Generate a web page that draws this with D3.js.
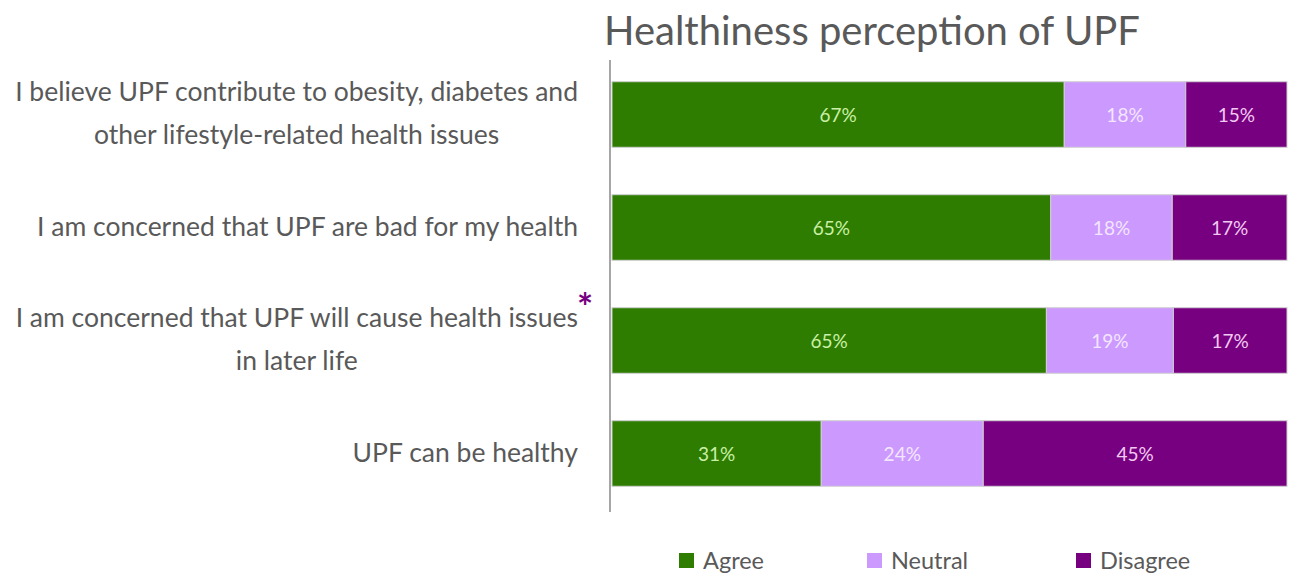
<!DOCTYPE html>
<html>
<head>
<meta charset="utf-8">
<script src="https://cdn.jsdelivr.net/npm/d3@7"></script>
<style>
  html, body { margin: 0; padding: 0; background: #ffffff; }
  svg { display: block; font-family: "Lato", "Noto Sans", sans-serif; }
</style>
</head>
<body>
<svg id="chart" width="1295" height="576"></svg>
<script>
// Statements (each entry is a list of wrapped lines)
const statements = [
  ["I believe UPF contribute to obesity, diabetes and", "other lifestyle-related health issues"],
  ["I am concerned that UPF are bad for my health"],
  ["I am concerned that UPF will cause health issues", "in later life"],
  ["UPF can be healthy"]
];
const responses = ["Agree", "Neutral", "Disagree"];
const agree    = [67, 65, 65, 31];
const neutral  = [18, 18, 19, 24];
const disagree = [15, 17, 17, 45];
const flagged  = [false, false, true, false];

const fills      = ["#2e7d00", "#cc99ff", "#770080"];
const labelInks  = ["#c9f0a6", "#f3e6ff", "#f2c9f2"];

const svg = d3.select("#chart");
const margin = { top: 58, right: 8, bottom: 66, left: 612 };
const W = 1295, H = 576;

const rows = statements.map((s, i) => ({
  key: i, lines: s, flag: flagged[i],
  values: [agree[i], neutral[i], disagree[i]]
}));

// each bar is shown as shares of its row total (100% stacked)
const x = d3.scaleLinear().domain([0, 1]).range([margin.left, W - margin.right]);
const y = d3.scaleBand().domain(rows.map(d => d.key))
  .range([margin.top, H - margin.bottom]).paddingInner(0.42).paddingOuter(0.21);

// title
svg.append("text")
  .attr("x", 604).attr("y", 45)
  .attr("fill", "#595959").attr("font-size", 40)
  .text("Healthiness perception of UPF");

// stacked segments
const stack = d3.stack().keys([0, 1, 2])
  .value((d, k) => d.values[k])
  .offset(d3.stackOffsetExpand);
const series = stack(rows);

const g = svg.append("g");
series.forEach((s, k) => {
  g.selectAll(null).data(s).join("rect")
    .attr("x", d => x(d[0]))
    .attr("y", d => y(d.data.key))
    .attr("width", d => x(d[1]) - x(d[0]))
    .attr("height", y.bandwidth())
    .attr("fill", fills[k])
    .attr("stroke", "#cfcfcf").attr("stroke-width", 1);

  g.selectAll(null).data(s).join("text")
    .attr("x", d => (x(d[0]) + x(d[1])) / 2)
    .attr("y", d => y(d.data.key) + y.bandwidth() / 2)
    .attr("text-anchor", "middle").attr("dominant-baseline", "central")
    .attr("fill", labelInks[k]).attr("font-size", 19)
    .text(d => d.data.values[k] + "%");
});

// category axis line
svg.append("line")
  .attr("x1", margin.left - 2).attr("x2", margin.left - 2)
  .attr("y1", margin.top + 2).attr("y2", H - margin.bottom + 2)
  .attr("stroke", "#a6a6a6").attr("stroke-width", 2);

// category labels: centered lines, block right-aligned to the axis
const labelRight = 578, lineGap = 42.5;
rows.forEach(r => {
  const cy = y(r.key) + y.bandwidth() / 2 - 2;
  const n = r.lines.length;
  const grp = svg.append("g");
  const texts = r.lines.map((line, j) =>
    grp.append("text")
      .attr("y", cy + (j - (n - 1) / 2) * lineGap)
      .attr("dominant-baseline", "central")
      .attr("fill", "#595959").attr("font-size", 26.5)
      .text(line));
  const widths = texts.map(t => t.node().getComputedTextLength());
  const maxW = d3.max(widths);
  const cx = labelRight - maxW / 2;
  texts.forEach(t => t.attr("x", cx).attr("text-anchor", "middle"));
  if (r.flag) {
    grp.append("text")
      .attr("x", labelRight - 1)
      .attr("y", cy + (0 - (n - 1) / 2) * lineGap + 4)
      .attr("fill", "#770080").attr("font-size", 38).attr("font-weight", "bold")
      .text("*");
  }
});

// legend
const legendX = [679, 867, 1076];
const legend = svg.append("g");
responses.forEach((name, k) => {
  legend.append("rect")
    .attr("x", legendX[k]).attr("y", 553).attr("width", 15).attr("height", 15)
    .attr("fill", fills[k]);
  legend.append("text")
    .attr("x", legendX[k] + 24).attr("y", 560)
    .attr("dominant-baseline", "central")
    .attr("fill", "#595959").attr("font-size", 23.5)
    .text(name);
});
</script>
</body>
</html>
